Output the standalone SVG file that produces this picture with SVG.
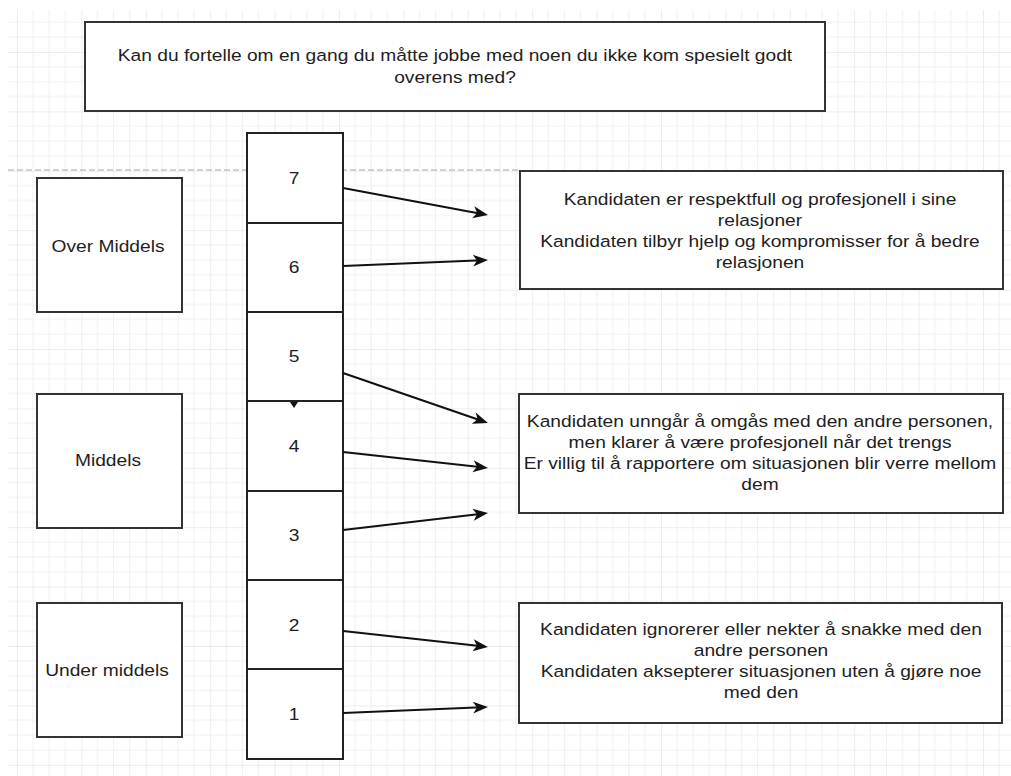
<svg xmlns="http://www.w3.org/2000/svg" width="1011" height="776" viewBox="0 0 1011 776">
<defs>
<pattern id="grid" patternUnits="userSpaceOnUse" x="17" y="52" width="64.4" height="59.4">
<path d="M16.1 0V59.4M32.2 0V59.4M48.3 0V59.4M0 14.85H64.4M0 29.7H64.4M0 44.55H64.4" stroke="#efefef" stroke-width="1" fill="none"/>
<path d="M0 0V59.4M0 0H64.4" stroke="#dcdcdc" stroke-width="1" fill="none"/>
</pattern>
<marker id="arr" markerUnits="userSpaceOnUse" markerWidth="18" markerHeight="14" refX="9" refY="6" orient="auto" overflow="visible">
<path d="M15 6L0 0L4 6L0 12Z" fill="#111"/>
</marker>
</defs>
<style>
.box{fill:#fff;stroke:#333;stroke-width:2}
.cell{fill:#fff;stroke:#222;stroke-width:2}
.t{font-family:"Liberation Sans",Arial,sans-serif;font-size:17px;fill:#1e1e1e;text-anchor:middle}
.c{fill:none;stroke:#111;stroke-width:2;marker-end:url(#arr)}
</style>
<rect width="1011" height="776" fill="#fff"/>
<rect x="8" y="10" width="1003" height="766" fill="url(#grid)"/>
<line x1="8" y1="170" x2="520" y2="170" stroke="#a8a8a8" stroke-width="1.2" stroke-dasharray="6,3"/>

<g id="question">
<rect class="box" x="85" y="22" width="740" height="89"/>
<g transform="translate(455,0) scale(1.13,1)">
<text class="t" x="0" y="61">Kan du fortelle om en gang du måtte jobbe med noen du ikke kom spesielt godt</text>
<text class="t" x="0" y="83">overens med?</text>
</g>
</g>

<g id="over-middels">
<rect class="box" x="37" y="178" width="145" height="134"/>
<text class="t" transform="translate(108,0) scale(1.13,1)" x="0" y="252">Over Middels</text>
</g>
<g id="middels">
<rect class="box" x="37" y="394" width="145" height="134"/>
<text class="t" transform="translate(108,0) scale(1.13,1)" x="0" y="466">Middels</text>
</g>
<g id="under-middels">
<rect class="box" x="37" y="603" width="145" height="134"/>
<text class="t" transform="translate(107,0) scale(1.13,1)" x="0" y="676">Under middels</text>
</g>

<g id="cell-7"><rect class="cell" x="247" y="133" width="96" height="90"/><text class="t" transform="translate(294,0) scale(1.13,1)" x="0" y="184">7</text></g>
<g id="cell-6"><rect class="cell" x="247" y="223" width="96" height="89"/><text class="t" transform="translate(294,0) scale(1.13,1)" x="0" y="273">6</text></g>
<g id="cell-5"><rect class="cell" x="247" y="312" width="96" height="89"/><text class="t" transform="translate(294,0) scale(1.13,1)" x="0" y="362">5</text></g>
<g id="cell-4"><rect class="cell" x="247" y="401" width="96" height="90"/><text class="t" transform="translate(294,0) scale(1.13,1)" x="0" y="452">4</text></g>
<g id="cell-3"><rect class="cell" x="247" y="491" width="96" height="89"/><text class="t" transform="translate(294,0) scale(1.13,1)" x="0" y="541">3</text></g>
<g id="cell-2"><rect class="cell" x="247" y="580" width="96" height="89"/><text class="t" transform="translate(294,0) scale(1.13,1)" x="0" y="631">2</text></g>
<g id="cell-1"><rect class="cell" x="247" y="669" width="96" height="90"/><text class="t" transform="translate(294,0) scale(1.13,1)" x="0" y="720">1</text></g>

<g id="desc-high">
<rect class="box" x="520" y="171" width="483" height="118"/>
<g transform="translate(760,0) scale(1.13,1)">
<text class="t" x="0" y="205">Kandidaten er respektfull og profesjonell i sine</text>
<text class="t" x="0" y="226">relasjoner</text>
<text class="t" x="0" y="247">Kandidaten tilbyr hjelp og kompromisser for å bedre</text>
<text class="t" x="0" y="268">relasjonen</text>
</g>
</g>
<g id="desc-mid">
<rect class="box" x="519" y="394" width="484" height="119"/>
<g transform="translate(760,0) scale(1.13,1)">
<text class="t" x="0" y="427">Kandidaten unngår å omgås med den andre personen,</text>
<text class="t" x="0" y="448">men klarer å være profesjonell når det trengs</text>
<text class="t" x="0" y="469">Er villig til å rapportere om situasjonen blir verre mellom</text>
<text class="t" x="0" y="490">dem</text>
</g>
</g>
<g id="desc-low">
<rect class="box" x="519" y="603" width="483" height="120"/>
<g transform="translate(761,0) scale(1.13,1)">
<text class="t" x="0" y="635">Kandidaten ignorerer eller nekter å snakke med den</text>
<text class="t" x="0" y="656">andre personen</text>
<text class="t" x="0" y="677">Kandidaten aksepterer situasjonen uten å gjøre noe</text>
<text class="t" x="0" y="698">med den</text>
</g>
</g>

<g id="connectors">
<line class="c" x1="343" y1="188" x2="482.1" y2="213.9"/>
<line class="c" x1="343" y1="266" x2="482" y2="260.25"/>
<line class="c" x1="343" y1="373" x2="482.3" y2="421"/>
<line class="c" x1="343" y1="452" x2="482" y2="467.3"/>
<line class="c" x1="343" y1="530" x2="482" y2="513.7"/>
<line class="c" x1="343" y1="631" x2="482" y2="646.3"/>
<line class="c" x1="343" y1="713" x2="482" y2="707.25"/>
<polygon points="290,402 298,402 294,408" fill="#111"/>
</g>
</svg>
